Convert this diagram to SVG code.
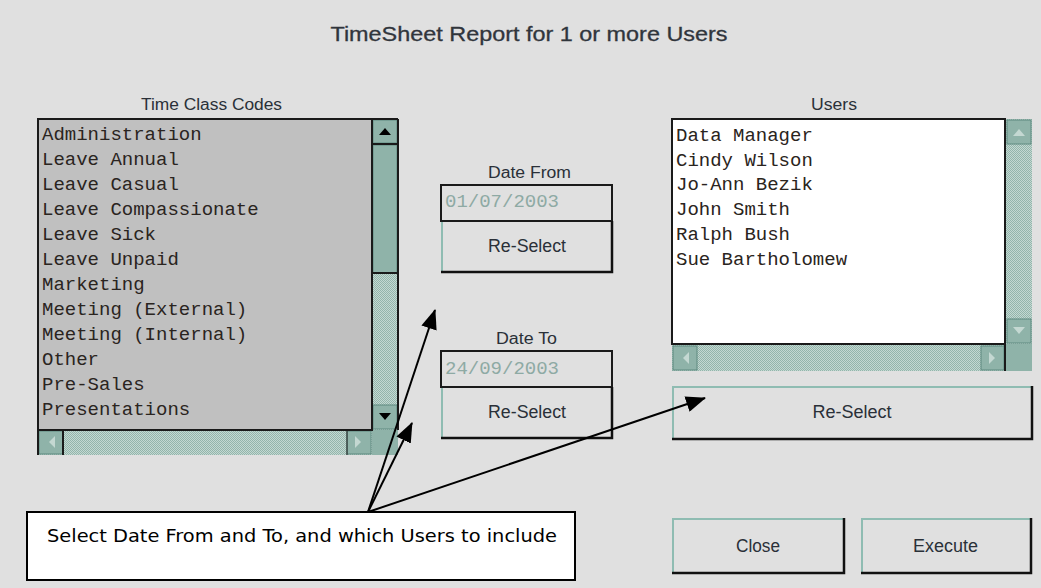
<svg xmlns="http://www.w3.org/2000/svg" width="1041" height="588" viewBox="0 0 1041 588">
<defs>
<pattern id="dither" width="2" height="2" patternUnits="userSpaceOnUse">
<rect width="2" height="2" fill="#c4d8d2"/>
<rect width="1" height="1" fill="#93b5ab"/>
<rect x="1" y="1" width="1" height="1" fill="#93b5ab"/>
</pattern>
<marker id="ah" markerWidth="20" markerHeight="16" refX="19" refY="8" orient="auto" markerUnits="userSpaceOnUse">
<path d="M0,0 L20,8 L0,16 Z" fill="#000"/>
</marker>
<style>
.lbl{font-family:"Liberation Sans",Arial,sans-serif;font-size:16px;fill:#2a3038}
.mono{font-family:"Liberation Mono","Courier New",monospace;font-size:19px;fill:#2a2420}
.date{font-family:"Liberation Mono","Courier New",monospace;font-size:19px;fill:#8eaaa4}
.btxt{font-family:"Liberation Sans",Arial,sans-serif;font-size:18px;fill:#2a3038}
.sbtn{fill:#8fb3a9;stroke:#5f8a80;stroke-width:1}
.frame{fill:none;stroke:#1a1a1a;stroke-width:2}
.hi{stroke:#8fbcb2;stroke-width:2;fill:none}
.sh{stroke:#111;stroke-width:2.5;fill:none}
.conn{stroke:#000;stroke-width:2;fill:none}
</style>
</defs>
<rect width="1041" height="588" fill="#e0e0e0"/>

<g id="title">
<text x="529" y="41" text-anchor="middle" font-family="'Liberation Sans',Arial,sans-serif" font-size="21" fill="#30353c" stroke="#30353c" stroke-width="0.3" textLength="397" lengthAdjust="spacingAndGlyphs">TimeSheet Report for 1 or more Users</text>
</g>

<g id="time-class-codes">
<text class="lbl" x="211.5" y="110" text-anchor="middle" textLength="141" lengthAdjust="spacingAndGlyphs">Time Class Codes</text>
<rect x="38" y="119" width="334" height="311" fill="#c0c0c0"/>
<g class="mono">
<text x="42" y="140">Administration</text>
<text x="42" y="165">Leave Annual</text>
<text x="42" y="190">Leave Casual</text>
<text x="42" y="215">Leave Compassionate</text>
<text x="42" y="240">Leave Sick</text>
<text x="42" y="265">Leave Unpaid</text>
<text x="42" y="290">Marketing</text>
<text x="42" y="315">Meeting (External)</text>
<text x="42" y="340">Meeting (Internal)</text>
<text x="42" y="365">Other</text>
<text x="42" y="390">Pre-Sales</text>
<text x="42" y="415">Presentations</text>
</g>
<rect x="372" y="119" width="26" height="336" fill="url(#dither)"/>
<rect x="38" y="430" width="334" height="25" fill="url(#dither)"/>
<rect x="372" y="430" width="26" height="25" fill="#8fb3a9"/>
<rect class="sbtn" x="373" y="120" width="24" height="23"/>
<path d="M379,135 L391,135 L385,128 Z" fill="#000"/>
<rect class="sbtn" x="373" y="145" width="24" height="128"/>
<rect class="sbtn" x="373" y="405" width="24" height="24"/>
<path d="M379,413 L391,413 L385,420 Z" fill="#000"/>
<rect class="sbtn" x="39" y="431" width="24" height="23"/>
<path d="M49,442 L55,436 L55,448 Z" fill="#c4d8d2"/>
<rect class="sbtn" x="347" y="431" width="24" height="23"/>
<path d="M361,442 L355,436 L355,448 Z" fill="#c4d8d2"/>
<rect class="frame" x="38" y="119" width="334" height="311"/>
<line x1="372" y1="119" x2="398" y2="119" stroke="#1a1a1a" stroke-width="2"/>
<line x1="398" y1="119" x2="398" y2="430" stroke="#1a1a1a" stroke-width="2"/>
<line x1="372" y1="144" x2="398" y2="144" stroke="#1a1a1a" stroke-width="2"/>
<line x1="372" y1="273" x2="398" y2="273" stroke="#1a1a1a" stroke-width="2"/>
<line x1="38" y1="430" x2="38" y2="455" stroke="#1a1a1a" stroke-width="2"/>
<line x1="63" y1="430" x2="63" y2="455" stroke="#1a1a1a" stroke-width="2"/>
<line x1="347" y1="430" x2="347" y2="455" stroke="#1a1a1a" stroke-width="1"/>
</g>

<g id="date-from">
<text class="lbl" x="529.5" y="178" text-anchor="middle" textLength="83" lengthAdjust="spacingAndGlyphs">Date From</text>
<rect x="441" y="185" width="171" height="36" fill="#e0e0e0" class="frame"/>
<text class="date" x="445" y="207">01/07/2003</text>
<path class="hi" d="M442,272 L442,222"/>
<path class="sh" d="M441,272 L612,272 L612,221"/>
<text class="btxt" x="527" y="252" text-anchor="middle" textLength="78" lengthAdjust="spacingAndGlyphs">Re-Select</text>
</g>

<g id="date-to">
<text class="lbl" x="526.5" y="344" text-anchor="middle" textLength="61" lengthAdjust="spacingAndGlyphs">Date To</text>
<rect x="441" y="351" width="171" height="36" fill="#e0e0e0" class="frame"/>
<text class="date" x="445" y="374">24/09/2003</text>
<path class="hi" d="M442,438 L442,388"/>
<path class="sh" d="M441,438 L612,438 L612,387"/>
<text class="btxt" x="527" y="418" text-anchor="middle" textLength="78" lengthAdjust="spacingAndGlyphs">Re-Select</text>
</g>

<g id="users">
<text class="lbl" x="834" y="110" text-anchor="middle" textLength="46" lengthAdjust="spacingAndGlyphs">Users</text>
<rect x="672" y="119" width="333" height="225" fill="#ffffff"/>
<g class="mono">
<text x="676" y="141">Data Manager</text>
<text x="676" y="166">Cindy Wilson</text>
<text x="676" y="190">Jo-Ann Bezik</text>
<text x="676" y="215">John Smith</text>
<text x="676" y="240">Ralph Bush</text>
<text x="676" y="265">Sue Bartholomew</text>
</g>
<rect x="1005" y="119" width="27" height="252" fill="url(#dither)"/>
<rect x="672" y="344" width="333" height="27" fill="url(#dither)"/>
<rect x="1005" y="344" width="27" height="27" fill="#8fb3a9"/>
<rect class="sbtn" x="1007" y="120" width="24" height="24"/>
<path d="M1013,136 L1025,136 L1019,129 Z" fill="#c4d8d2"/>
<rect class="sbtn" x="1007" y="319" width="24" height="24"/>
<path d="M1013,327 L1025,327 L1019,334 Z" fill="#c4d8d2"/>
<rect class="sbtn" x="673" y="346" width="24" height="24"/>
<path d="M683,358 L689,352 L689,364 Z" fill="#c4d8d2"/>
<rect class="sbtn" x="981" y="346" width="23" height="24"/>
<path d="M995,358 L989,352 L989,364 Z" fill="#c4d8d2"/>
<rect class="frame" x="672" y="119" width="333" height="225"/>
<line x1="1005" y1="344" x2="1005" y2="371" stroke="#1a1a1a" stroke-width="2"/>
</g>

<g id="users-reselect">
<path class="hi" d="M673,438 L673,387 L1031,387"/>
<path class="sh" d="M672,439 L1032,439 L1032,386"/>
<text class="btxt" x="852" y="418" text-anchor="middle" textLength="79" lengthAdjust="spacingAndGlyphs">Re-Select</text>
</g>

<g id="close">
<path class="hi" d="M673,572 L673,519 L843,519"/>
<path class="sh" d="M672,573 L844,573 L844,518"/>
<text class="btxt" x="758" y="552" text-anchor="middle" textLength="44" lengthAdjust="spacingAndGlyphs">Close</text>
</g>

<g id="execute">
<path class="hi" d="M862,572 L862,519 L1030,519"/>
<path class="sh" d="M861,573 L1031,573 L1031,518"/>
<text class="btxt" x="945.5" y="552" text-anchor="middle" textLength="65" lengthAdjust="spacingAndGlyphs">Execute</text>
</g>

<g id="callout">
<rect x="27" y="512" width="548" height="68" fill="#ffffff" stroke="#000" stroke-width="2"/>
<text x="47" y="542" font-family="'DejaVu Sans',Verdana,sans-serif" font-size="17" fill="#000" textLength="510" lengthAdjust="spacingAndGlyphs">Select Date From and To, and which Users to include</text>
</g>

<g id="connectors">
<line class="conn" x1="368" y1="512" x2="435" y2="310" marker-end="url(#ah)"/>
<line class="conn" x1="368" y1="512" x2="412" y2="423" marker-end="url(#ah)"/>
<line class="conn" x1="368" y1="512" x2="705" y2="398" marker-end="url(#ah)"/>
</g>
</svg>
